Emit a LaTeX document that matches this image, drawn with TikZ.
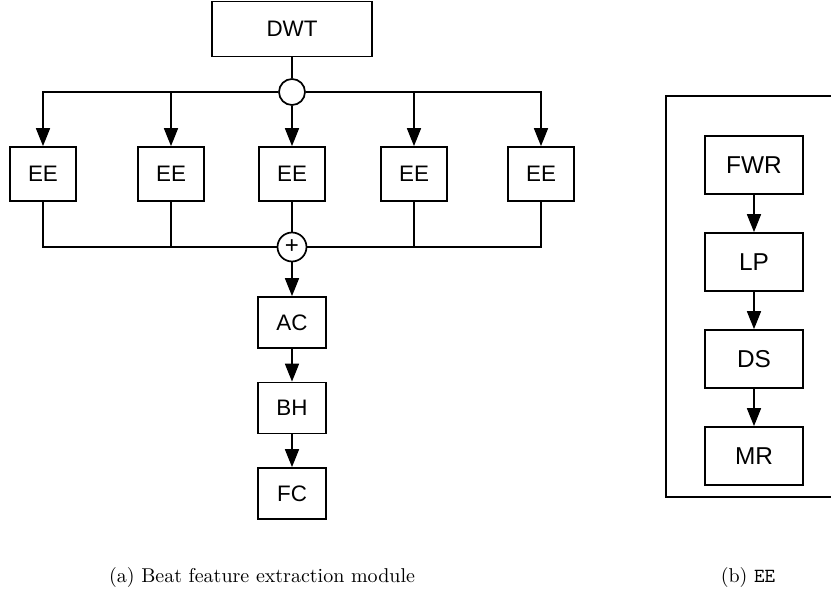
\documentclass[tikz,border=0pt]{standalone}
\usepackage{fontspec}
\newfontfamily\helv{Liberation Sans}
\usepackage{tikz}
\usetikzlibrary{arrows.meta,positioning,calc}

\begin{document}
\begin{tikzpicture}[x=0.5pt, y=-0.5pt,
	blk/.style={draw, line width=0.85pt, inner sep=0pt,
		font=\helv\fontsize{11.2}{12}\selectfont,
		minimum width=33pt, minimum height=27pt},
	sblk/.style={blk, font=\helv\fontsize{12.2}{14}\selectfont,
		minimum width=49pt, minimum height=29pt},
	joint/.style={draw, circle, line width=0.85pt, inner sep=0pt, minimum size=13pt},
	flow/.style={line width=0.85pt, -{Triangle[length=9pt, width=7pt]}},
	wire/.style={line width=0.85pt},
	capt/.style={font=\fontsize{10}{12}\selectfont}]

	\useasboundingbox (0,0) rectangle (831,599);

	% (a) beat feature extraction module
	\node[blk, minimum width=80pt, minimum height=27.5pt] (dwt) at (292,29) {DWT};
	\node[joint] (split) at (292,92) {};
	\foreach \i/\xx in {1/43,2/171,3/292,4/414,5/541}
		\node[blk] (ee\i) at (\xx,174) {EE};
	\node[joint, minimum size=14.5pt, font=\helv\fontsize{12}{12}\selectfont] (sum) at (292,247) {+};
	\node[blk, minimum width=34pt, minimum height=25.5pt] (ac) at (292,322.5) {AC};
	\node[blk, minimum width=34pt, minimum height=25.5pt] (bh) at (292,408) {BH};
	\node[blk, minimum width=34pt, minimum height=25.5pt] (fc) at (292,493.5) {FC};

	\draw[wire] (dwt) -- (split);
	\foreach \i in {1,2}
		\draw[flow] (split.west) -| (ee\i.north);
	\foreach \i in {4,5}
		\draw[flow] (split.east) -| (ee\i.north);
	\draw[flow] (split) -- (ee3);

	\foreach \i in {1,2}
		\draw[wire] (ee\i.south) |- (sum.west);
	\foreach \i in {4,5}
		\draw[wire] (ee\i.south) |- (sum.east);
	\draw[wire] (ee3) -- (sum);

	\draw[flow] (sum) -- (ac);
	\draw[flow] (ac) -- (bh);
	\draw[flow] (bh) -- (fc);

	% (b) EE, inside a frame cut at the right edge
	\draw[line width=1pt] (840,96) -| (666,497) -- (840,497);
	\node[sblk] (fwr) at (754,165) {FWR};
	\node[sblk] (lp) at (754,262) {LP};
	\node[sblk] (ds) at (754,359) {DS};
	\node[sblk] (mr) at (754,456) {MR};
	\draw[flow] (fwr) -- (lp);
	\draw[flow] (lp) -- (ds);
	\draw[flow] (ds) -- (mr);

	% captions
	\node[capt] (capa) at (262,577) {(a) Beat feature extraction module};
	\node[capt] (capb) at (748,577) {(b) \texttt{EE}};

\end{tikzpicture}
\end{document}
